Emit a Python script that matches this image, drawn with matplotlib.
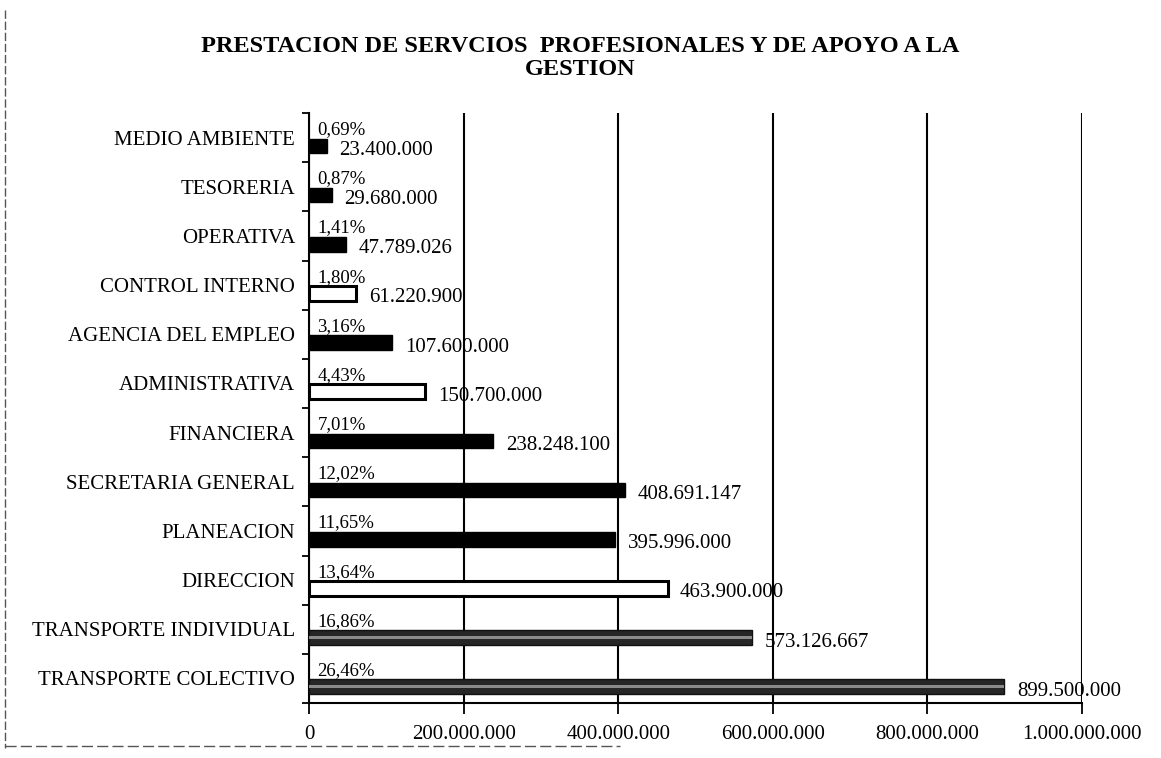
import matplotlib.pyplot as plt
from matplotlib.lines import Line2D
from matplotlib.ticker import FuncFormatter, FixedLocator

# data, top to bottom as in the chart
areas = ['MEDIO AMBIENTE', 'TESORERIA', 'OPERATIVA', 'CONTROL INTERNO',
         'AGENCIA DEL EMPLEO', 'ADMINISTRATIVA', 'FINANCIERA',
         'SECRETARIA GENERAL', 'PLANEACION', 'DIRECCION',
         'TRANSPORTE INDIVIDUAL', 'TRANSPORTE COLECTIVO']
valores = [23400000, 29680000, 47789026, 61220900, 107600000, 150700000,
           238248100, 408691147, 395996000, 463900000, 573126667, 899500000]
porcentajes = [0.69, 0.87, 1.41, 1.80, 3.16, 4.43, 7.01, 12.02, 11.65,
               13.64, 16.86, 26.46]
x_ticks = [0, 200000000, 400000000, 600000000, 800000000, 1000000000]

# bar styles (scan shows some hollow bars and some grey-textured ones)
estilo = {'CONTROL INTERNO': 'hueco', 'ADMINISTRATIVA': 'hueco',
          'DIRECCION': 'hueco', 'TRANSPORTE INDIVIDUAL': 'gris',
          'TRANSPORTE COLECTIVO': 'gris'}

plt.rcParams['font.family'] = ['Liberation Serif', 'DejaVu Serif']

fig = plt.figure(figsize=(11.61, 7.58), dpi=100)
ax = fig.add_axes([309 / 1161, 1 - 703 / 758, (1082 - 309) / 1161, (703 - 113) / 758])

n = len(areas)
ys = [n - 1 - i for i in range(n)]


def miles(v, pos=None):
    return f"{v:,.0f}".replace(',', '.')


for y, name, v, p in zip(ys, areas, valores, porcentajes):
    st = estilo.get(name, 'negro')
    if st == 'hueco':
        fc, ec, lw = 'white', 'black', 2.2
    elif st == 'gris':
        fc, ec, lw = '#262626', '#111111', 1.0
    else:
        fc, ec, lw = 'black', 'black', 1.0
    ax.barh(y - 0.17, v, height=0.3, color=fc, edgecolor=ec, linewidth=lw, zorder=3)
    if st == 'gris':
        ax.barh(y - 0.17, v, height=0.06, color='#8a8a8a', linewidth=0, zorder=4)
    # percentage series (tiny bar on the value scale)
    ax.barh(y + 0.14, p, height=0.3, color='black', zorder=3)
    ax.annotate(f"{p:.2f}%".replace('.', ','), xy=(p, y + 0.16),
                xytext=(6, 0), textcoords='offset points',
                ha='left', va='center', fontsize=13.5)
    ax.annotate(miles(v), xy=(v, y - 0.26), xytext=(9, 0),
                textcoords='offset points', ha='left', va='center',
                fontsize=15)

ax.set_xlim(0, 1000000000)
ax.set_ylim(-0.5, n - 0.5)
ax.set_xticks(x_ticks)
ax.xaxis.set_major_formatter(FuncFormatter(miles))
ax.set_yticks(ys)
ax.set_yticklabels(areas)
ax.yaxis.set_minor_locator(FixedLocator([k - 0.5 for k in range(n + 1)]))
ax.tick_params(axis='y', which='major', length=0, pad=10, labelsize=15)
ax.tick_params(axis='y', which='minor', length=5, width=1.3, direction='out')
ax.tick_params(axis='x', length=8, width=1.3, pad=8, labelsize=15)

ax.grid(axis='x', color='black', linewidth=1.5, zorder=1)
for s in ['top', 'right']:
    ax.spines[s].set_visible(False)
ax.spines['left'].set_linewidth(1.5)
ax.spines['bottom'].set_linewidth(1.5)

fig.text(0.5, 1 - 58 / 758,
         'PRESTACION DE SERVCIOS  PROFESIONALES Y DE APOYO A LA\nGESTION',
         ha='center', va='center', fontsize=17.5, fontweight='bold',
         linespacing=1.15)

# border lines of the scanned chart area
fig.add_artist(Line2D([5 / 1161, 5 / 1161], [1 - 10 / 758, 1 - 748 / 758],
                      color='#555555', linewidth=1.0, linestyle=(0, (6, 2))))
fig.add_artist(Line2D([5 / 1161, 620 / 1161], [1 - 746 / 758, 1 - 746 / 758],
                      color='#555555', linewidth=1.0, linestyle=(0, (8, 3))))

plt.savefig('out.png', dpi=100)
plt.close()
